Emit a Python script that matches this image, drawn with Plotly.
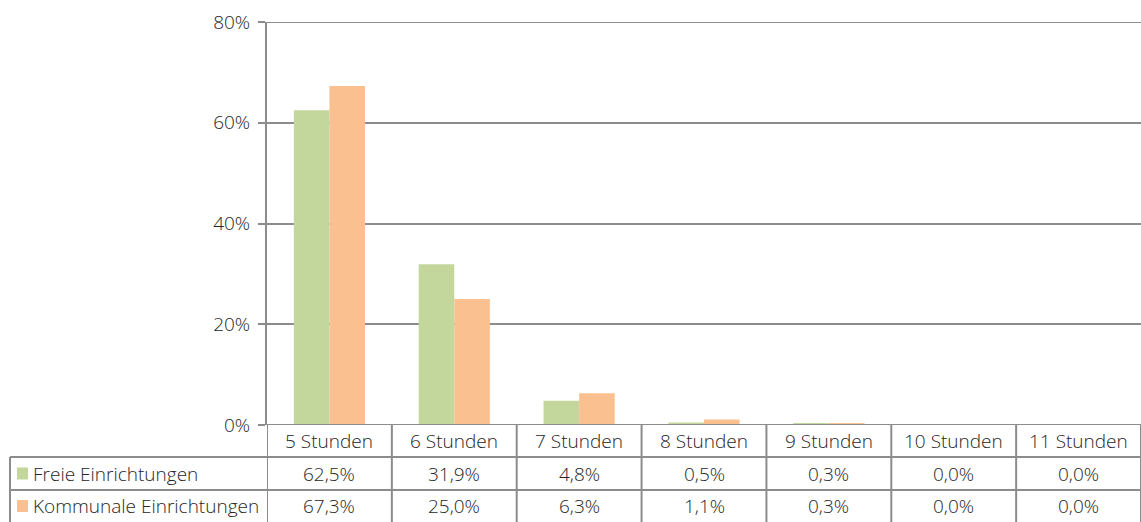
import plotly.graph_objects as go

categories = ["5 Stunden", "6 Stunden", "7 Stunden", "8 Stunden", "9 Stunden", "10 Stunden", "11 Stunden"]
series_names = ["Freie Einrichtungen", "Kommunale Einrichtungen"]
freie = [62.5, 31.9, 4.8, 0.5, 0.3, 0.0, 0.0]
kommunale = [67.3, 25.0, 6.3, 1.1, 0.3, 0.0, 0.0]
y_ticks = [0, 20, 40, 60, 80]
y_tick_labels = ["0%", "20%", "40%", "60%", "80%"]

colors = ["#C3D69B", "#FAC090"]
line_col = "#8C8C8C"
text_col = "#262626"
FONT = "Open Sans"
FS = 19
FW = 300

W, H = 1141, 522
# pixel layout helpers
def px_x(p):
    return p / W

def px_y(p):
    return 1 - p / H

plot_left, plot_top, plot_bottom = 267, 22, 425
row_edges = [425, 457, 490, 522]
table_left = 10

fig = go.Figure()
for name, vals, col in zip(series_names, [freie, kommunale], colors):
    fig.add_trace(go.Bar(
        x=list(range(len(categories))), y=vals, name=name,
        marker=dict(color=col, line=dict(width=0)),
        showlegend=False, hoverinfo="skip",
    ))

shapes = []
annotations = []

# gridlines at the ends of the value range
for v in (y_ticks[0], y_ticks[-1]):
    shapes.append(dict(type="line", xref="paper", yref="y",
                       x0=px_x(plot_left - 7), x1=1, y0=v, y1=v,
                       line=dict(color=line_col, width=2), layer="above"))

# table: vertical separators between categories
for i in range(len(categories) + 1):
    shapes.append(dict(type="line", xref="x", yref="paper",
                       x0=i - 0.5, x1=i - 0.5,
                       y0=px_y(row_edges[-1] + 2), y1=px_y(plot_bottom),
                       line=dict(color=line_col, width=2)))
# table: horizontal row lines
for r in row_edges[1:3]:
    shapes.append(dict(type="line", xref="paper", yref="paper",
                       x0=px_x(table_left), x1=1, y0=px_y(r), y1=px_y(r),
                       line=dict(color=line_col, width=2)))
# left border of the series rows
shapes.append(dict(type="line", xref="paper", yref="paper",
                   x0=px_x(table_left), x1=px_x(table_left),
                   y0=px_y(row_edges[-1] + 2), y1=px_y(row_edges[1]),
                   line=dict(color=line_col, width=2)))

font = dict(family=FONT, size=FS, color=text_col, weight=FW)

# header row: category labels
hdr_y = px_y((row_edges[0] + row_edges[1]) / 2)
for i, c in enumerate(categories):
    annotations.append(dict(x=i, y=hdr_y, xref="x", yref="paper", text=c,
                            showarrow=False, xanchor="center", yanchor="middle",
                            font=font))

# series rows: legend key, name and values
for k, (name, vals, col) in enumerate(zip(series_names, [freie, kommunale], colors)):
    top, bot = row_edges[k + 1], row_edges[k + 2]
    cy = (top + bot) / 2
    shapes.append(dict(type="rect", xref="paper", yref="paper",
                       x0=px_x(17), x1=px_x(28), y0=px_y(cy + 6), y1=px_y(cy - 6),
                       fillcolor=col, line=dict(width=0)))
    annotations.append(dict(x=px_x(31), y=px_y(cy), xref="paper", yref="paper",
                            text=name, showarrow=False, xanchor="left", yanchor="middle",
                            font=font))
    for i, v in enumerate(vals):
        annotations.append(dict(x=i, y=px_y(cy), xref="x", yref="paper",
                                text=f"{v:.1f}%".replace(".", ","), showarrow=False,
                                xanchor="center", yanchor="middle",
                                font=font))

fig.update_layout(
    width=W, height=H,
    margin=dict(l=0, r=0, t=0, b=0),
    paper_bgcolor="white", plot_bgcolor="white",
    barmode="group", bargap=0.43, bargroupgap=0,
    shapes=shapes, annotations=annotations,
    xaxis=dict(domain=[px_x(plot_left), 1], range=[-0.5, len(categories) - 0.5],
               showticklabels=False, showgrid=False, zeroline=False,
               showline=False, fixedrange=True, automargin=False),
    yaxis=dict(domain=[px_y(plot_bottom), px_y(plot_top)], range=[0, 80],
               tickvals=y_ticks, ticktext=y_tick_labels,
               showgrid=True, gridcolor=line_col, gridwidth=2,
               zeroline=False, showline=True, linecolor=line_col, linewidth=2,
               ticks="outside", ticklen=7, tickwidth=2, tickcolor=line_col,
               ticklabelstandoff=4, automargin=False,
               tickfont=font),
)

fig.write_html("out.html")
